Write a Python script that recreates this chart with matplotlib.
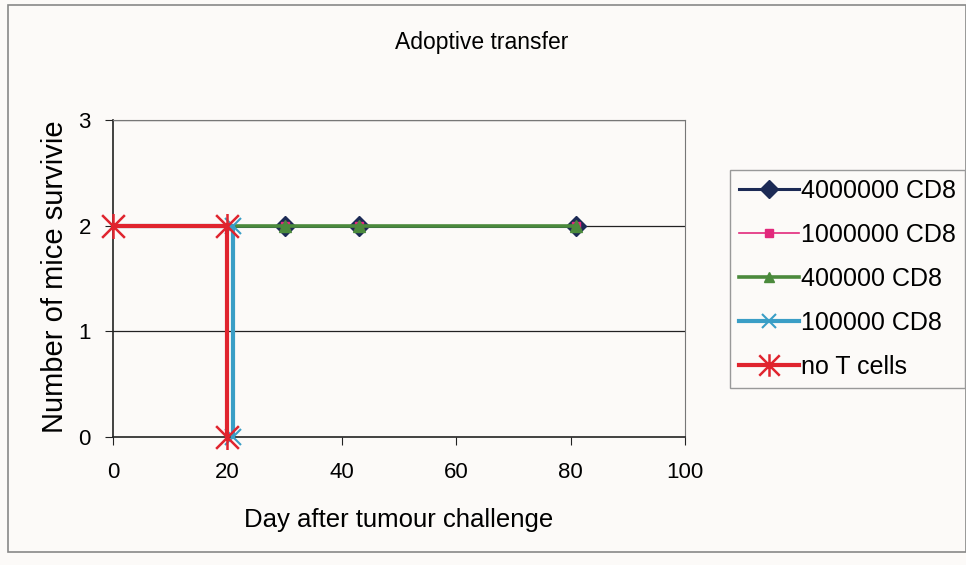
import matplotlib
matplotlib.use('Agg')
from matplotlib import pyplot as plt
from matplotlib.transforms import Bbox
from matplotlib.patches import Rectangle
from matplotlib.path import Path

plt.rcParams['font.family'] = ['Liberation Sans', 'DejaVu Sans']

# data
days_cd8 = [0, 30, 43, 81]
surv_cd8 = [2, 2, 2, 2]
days_100k = [0, 21, 21]
surv_100k = [2, 2, 0]
days_none = [0, 20, 20]
surv_none = [2, 2, 0]

labels = ['4000000 CD8', '1000000 CD8', '400000 CD8', '100000 CD8', 'no T cells']
x_ticks = [0, 20, 40, 60, 80, 100]
y_ticks = [0, 1, 2, 3]

# excel style star: an X with a short vertical bar
star = Path([(-1, -1), (1, 1), (-1, 1), (1, -1), (0, -1.1), (0, 1.1)],
            [Path.MOVETO, Path.LINETO, Path.MOVETO, Path.LINETO, Path.MOVETO, Path.LINETO])

bg = '#fcfaf8'
fig = plt.figure(figsize=(9.66, 5.65), dpi=100, facecolor=bg)
ax = fig.add_axes([113/966, 1-437/565, 572/966, 317/565])
ax.set_facecolor(bg)

ax.plot(days_cd8, surv_cd8, color='#1c2a55', lw=2.2, marker='D', ms=10,
        markevery=slice(1, None), label=labels[0], clip_on=False, zorder=3)
ax.plot(days_cd8, surv_cd8, color='#e2287c', lw=1.2, marker='s', ms=6,
        markevery=slice(1, None), label=labels[1], clip_on=False, zorder=3)
ax.plot(days_cd8, surv_cd8, color='#4b8a3c', lw=2.6, marker='^', ms=8,
        markevery=slice(1, None), label=labels[2], clip_on=False, zorder=3)
ax.plot(days_100k, surv_100k, color='#3a9ec6', lw=3, marker='x', ms=11, mew=1.5,
        markevery=[1, 2], label=labels[3], clip_on=False, zorder=3)
ax.plot(days_none, surv_none, color='#e0242e', lw=3, marker=star, ms=18, mew=1.8,
        label=labels[4], clip_on=False, zorder=4)

ax.set_xlim(0, 100)
ax.set_ylim(0, 3)
ax.set_xticks(x_ticks)
ax.set_yticks(y_ticks)
ax.tick_params(labelsize=16, direction='out', length=6, color='#222222')
ax.tick_params(axis='x', pad=12)
ax.tick_params(axis='y', pad=10)
for y in y_ticks[1:]:
    ax.axhline(y, color='#222222', lw=0.9, zorder=1)
for s in ['top', 'right']:
    ax.spines[s].set_color('#777777')
for s in ['left', 'bottom']:
    ax.spines[s].set_color('#222222')
    ax.spines[s].set_linewidth(1.2)

ax.set_xlabel('Day after tumour challenge', fontsize=18.5, labelpad=18)
# the y label runs past the plot top in the original and gets cut off
ylab = fig.text(55/966, 1-433/565, 'Number of mice survivied', fontsize=21,
                rotation=90, ha='center', va='bottom')
ylab.set_clip_box(Bbox.from_extents(0, 0, 966, 565-122))
ylab.set_clip_on(True)

fig.text(482/966, 1-43/565, 'Adoptive transfer', fontsize=16.5, ha='center', va='center')

leg = fig.legend(loc='upper left', bbox_to_anchor=(730/966, 1-170/565), fontsize=18,
                 frameon=True, fancybox=False, edgecolor='#999999', facecolor=bg,
                 framealpha=1, handlelength=2.4, handletextpad=0.1, labelspacing=0.8,
                 borderpad=0.35, borderaxespad=0, markerscale=0.9)

fig.patches.append(Rectangle((8/966, 1-552/565), 958/966, 547/565, transform=fig.transFigure,
                             fill=False, edgecolor='#888888', lw=1.2))

fig.savefig('out.png', dpi=100, facecolor=bg)
